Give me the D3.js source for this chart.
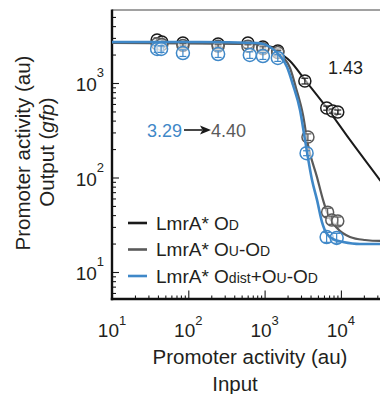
<!DOCTYPE html>
<html><head><meta charset="utf-8">
<script src="https://cdn.jsdelivr.net/npm/d3@7"></script>
<style>
html,body{margin:0;padding:0;background:#fff;}
svg{display:block;font-family:Arial,"Liberation Sans",sans-serif;}
</style></head>
<body><svg id="c" width="380" height="394"></svg>
<script>
// ---- data ----
const xMajorTicks = [10, 100, 1000, 10000];
const yMajorTicks = [10, 100, 1000];
const minorMult = [2, 3, 4, 5, 6, 7, 8, 9];
const xTickExp = ["1", "2", "3", "4"];
const yTickExp = ["1", "2", "3"];

// fitted curves
const curveBlackX = [10, 142, 644, 1250, 1592, 2153, 3385, 6580, 13150, 32500, 109000];
const curveBlackY = [2650, 2650, 2590, 2400, 2076, 1710, 1076, 543, 250, 94, 24.7];
const curveGrayX = [10, 794, 1250, 1742, 2153, 2580, 3188, 3706, 4862, 5830, 6580, 8900, 13150, 20700, 32500, 109000];
const curveGrayY = [2650, 2588, 2345, 1885, 1441, 886, 458, 221, 101, 58, 43, 29.2, 23.5, 21.8, 21.3, 21.3];
const curveBlueX = [10, 142, 794, 1177, 1592, 1966, 2357, 2912, 3385, 4183, 4862, 5653, 6580, 8370, 10660, 17800, 32500, 109000];
const curveBlueY = [2715, 2715, 2650, 2405, 1930, 1476, 953, 518, 250, 94, 58, 33.8, 25.2, 21.8, 20.8, 19.8, 19.8, 19.8];

// measured points
const ptsBlackX = [39, 45, 85, 246, 605, 950, 1490, 3370, 6520, 7800, 9100];
const ptsBlackY = [2850, 2720, 2650, 2590, 2650, 2400, 2180, 1050, 543, 505, 493];
const ptsBlackErr = [0.05, 0.05, 0.05, 0.05, 0.05, 0.05, 0.05, 0.07, 0.05, 0.05, 0.05];
const ptsGrayX = [39, 45, 85, 246, 605, 950, 1490, 3700, 6700, 7600, 9100];
const ptsGrayY = [2600, 2550, 2500, 2450, 2450, 2300, 2100, 268, 43, 35.5, 34.7];
const ptsGrayErr = [0.05, 0.05, 0.05, 0.05, 0.05, 0.05, 0.05, 0.08, 0.1, 0.1, 0.1];
const ptsBlueX = [39, 44, 85, 246, 640, 950, 1490, 3550, 6500, 8800];
const ptsBlueY = [2290, 2290, 2075, 2025, 1980, 1930, 1840, 181, 23.4, 22.9];
const ptsBlueErr = [0.08, 0.08, 0.08, 0.08, 0.08, 0.08, 0.08, 0.06, 0.12, 0.12];

const seriesNames = ["LmrA* O|D", "LmrA* O|U-O|D", "LmrA* O|dist+O|U-O|D"];
const seriesColors = ["#1a1a1a", "#5a5a5a", "#3f88c8"];

// ---- layout ----
const L = 112, R = 380, T = 10, B = 299;
const svg = d3.select("#c");
const x = d3.scaleLog().domain([10, 100000]).range([L, L + 4 * 76.3]);
const y = d3.scaleLog().domain([10, 1000]).range([272, 83]);

svg.append("defs").append("clipPath").attr("id", "clip")
  .append("rect").attr("x", L).attr("y", T).attr("width", 400).attr("height", B - T);

// minor tick values
const xMinor = [];
xMajorTicks.forEach(d => minorMult.forEach(m => { const v = d * m; if (x(v) > L && x(v) < 400) xMinor.push(v); }));
[1].forEach(() => minorMult.forEach(m => { const v = 100000 * m; }));
const yMinor = [];
[1, 10, 100, 1000].forEach(d => minorMult.forEach(m => { const v = d * m; if (y(v) > T + 2 && y(v) < B - 1 && !yMajorTicks.includes(v)) yMinor.push(v); }));

// axes (ticks inward)
const gx = svg.append("g").attr("transform", `translate(0,${B})`);
gx.call(d3.axisBottom(x).tickValues(xMinor).tickSizeInner(-3.5).tickSizeOuter(0).tickFormat(""));
gx.append("g").call(d3.axisBottom(x).tickValues(xMajorTicks).tickSizeInner(-8.5).tickSizeOuter(0).tickFormat(""));
gx.selectAll(".domain").remove();
gx.selectAll("line").attr("stroke", "#1a1a1a").attr("stroke-width", 1.1);

const gy = svg.append("g").attr("transform", `translate(${L},0)`);
gy.call(d3.axisLeft(y).tickValues(yMinor).tickSizeInner(-4).tickSizeOuter(0).tickFormat(""));
gy.append("g").call(d3.axisLeft(y).tickValues(yMajorTicks).tickSizeInner(-7).tickSizeOuter(0).tickFormat(""));
gy.selectAll(".domain").remove();
gy.selectAll("line").attr("stroke", "#1a1a1a").attr("stroke-width", 1.1);

// frame
svg.append("line").attr("x1", L).attr("x2", R).attr("y1", T).attr("y2", T).attr("stroke", "#444").attr("stroke-width", 1.2);
svg.append("line").attr("x1", L).attr("x2", L).attr("y1", T - 0.6).attr("y2", B + 1.2).attr("stroke", "#111").attr("stroke-width", 2.4);
svg.append("line").attr("x1", L - 1.2).attr("x2", R).attr("y1", B).attr("y2", B).attr("stroke", "#111").attr("stroke-width", 2.4);

// tick labels
xMajorTicks.forEach((v, i) => {
  const t = svg.append("text").attr("x", x(v)).attr("y", 337).attr("text-anchor", "middle")
    .attr("font-size", 19).attr("fill", "#231f20");
  t.append("tspan").text("10");
  t.append("tspan").attr("dy", -12).attr("font-size", 13).text(xTickExp[i]);
});
yMajorTicks.forEach((v, i) => {
  const t = svg.append("text").attr("x", 104).attr("y", y(v) + 8).attr("text-anchor", "end")
    .attr("font-size", 19).attr("fill", "#231f20");
  t.append("tspan").text("10");
  t.append("tspan").attr("dy", -14).attr("font-size", 13).text(yTickExp[i]);
});

// axis titles
svg.append("text").attr("x", 250).attr("y", 364).attr("text-anchor", "middle").attr("font-size", 20.5).attr("fill", "#231f20").text("Promoter activity (au)");
svg.append("text").attr("x", 235).attr("y", 391).attr("text-anchor", "middle").attr("font-size", 20.5).attr("fill", "#231f20").text("Input");
const yt1 = svg.append("text").attr("transform", "translate(30,153) rotate(-90)").attr("text-anchor", "middle").attr("font-size", 20.5).attr("fill", "#231f20").text("Promoter activity (au)");
const yt2 = svg.append("text").attr("transform", "translate(54,152) rotate(-90)").attr("text-anchor", "middle").attr("font-size", 20.5).attr("fill", "#231f20");
yt2.append("tspan").text("Output (");
yt2.append("tspan").attr("font-style", "italic").text("gfp");
yt2.append("tspan").text(")");

// curves
const plot = svg.append("g").attr("clip-path", "url(#clip)");
const line = d3.line().x(d => x(d[0])).y(d => y(d[1])).curve(d3.curveMonotoneX);
const curves = [
  [curveBlackX, curveBlackY, 2.0],
  [curveGrayX, curveGrayY, 2.2],
  [curveBlueX, curveBlueY, 2.6]
];
const ptsets = [
  [ptsBlackX, ptsBlackY, ptsBlackErr, 6],
  [ptsGrayX, ptsGrayY, ptsGrayErr, 6],
  [ptsBlueX, ptsBlueY, ptsBlueErr, 6.5]
];
function drawPoints(k) {
  const [px, py, pe, r] = ptsets[k];
  const g = plot.append("g");
  px.forEach((xv, i) => {
    const cx = x(xv), cy = y(py[i]);
    const y1 = y(py[i] * (1 + pe[i])), y2 = y(py[i] * (1 - pe[i]));
    g.append("circle").attr("cx", cx).attr("cy", cy).attr("r", r)
      .attr("fill", "#fff").attr("fill-opacity", 0.55).attr("stroke", seriesColors[k]).attr("stroke-width", 1.5);
    g.append("line").attr("x1", cx).attr("x2", cx).attr("y1", y1).attr("y2", y2).attr("stroke", seriesColors[k]).attr("stroke-width", 1.2);
    [y1, y2].forEach(yy => g.append("line").attr("x1", cx - 3.5).attr("x2", cx + 3.5).attr("y1", yy).attr("y2", yy).attr("stroke", seriesColors[k]).attr("stroke-width", 1.2));
  });
}
// black
plot.append("path").datum(curves[0][0].map((v, i) => [v, curves[0][1][i]])).attr("d", line)
  .attr("fill", "none").attr("stroke", seriesColors[0]).attr("stroke-width", curves[0][2]);
drawPoints(0);
plot.append("path").datum(curves[1][0].map((v, i) => [v, curves[1][1][i]])).attr("d", line)
  .attr("fill", "none").attr("stroke", seriesColors[1]).attr("stroke-width", curves[1][2]);
drawPoints(1);
drawPoints(2);
plot.append("path").datum(curves[2][0].map((v, i) => [v, curves[2][1][i]])).attr("d", line)
  .attr("fill", "none").attr("stroke", seriesColors[2]).attr("stroke-width", curves[2][2]);

// annotations
svg.append("text").attr("x", 328).attr("y", 74).attr("font-size", 18).attr("fill", "#231f20").text("1.43");
svg.append("text").attr("x", 147).attr("y", 137).attr("font-size", 18).attr("fill", seriesColors[2]).text("3.29");
svg.append("line").attr("x1", 184).attr("x2", 202).attr("y1", 130).attr("y2", 130).attr("stroke", "#1a1a1a").attr("stroke-width", 1.6);
svg.append("path").attr("d", "M200,125.5 L211,130 L200,134.5 L202.5,130 Z").attr("fill", "#1a1a1a");
svg.append("text").attr("x", 211).attr("y", 137).attr("font-size", 18).attr("fill", "#5a5a5a").text("4.40");

// legend
const legY = [223, 249.5, 276];
seriesNames.forEach((name, i) => {
  svg.append("line").attr("x1", 128).attr("x2", 147).attr("y1", legY[i]).attr("y2", legY[i])
    .attr("stroke", seriesColors[i]).attr("stroke-width", 2.6);
  const t = svg.append("text").attr("x", 156).attr("y", legY[i] + 6.5).attr("font-size", 19).attr("fill", "#231f20");
  name.split("|").forEach((part, j) => {
    if (j === 0) { t.append("tspan").text(part); return; }
    // first char(s) lowercase/uppercase run are small
    const m = part.match(/^([a-zA-Z]+?)([+\-].*|$)/);
    let small = part, rest = "";
    if (m) { small = m[1]; rest = m[2]; }
    if (rest.endsWith("O")) { t.append("tspan").attr("font-size", 14).text(small); t.append("tspan").text(rest); }
    else { t.append("tspan").attr("font-size", 14).text(small); if (rest) t.append("tspan").text(rest); }
  });
});
</script></body></html>
